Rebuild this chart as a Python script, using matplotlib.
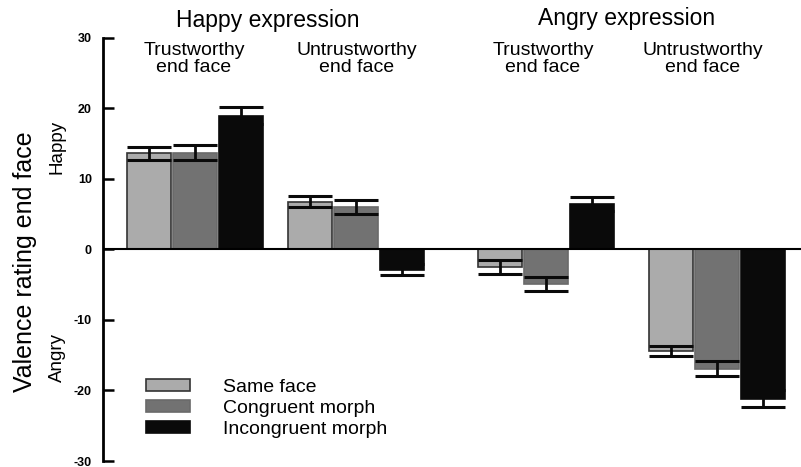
import matplotlib.pyplot as plt
import numpy as np
from matplotlib.patches import Patch

plt.rcParams["font.family"] = ["Liberation Sans", "DejaVu Sans"]

### data
conds = ["Same face", "Congruent morph", "Incongruent morph"]
groups = ["Happy/Trustworthy", "Happy/Untrustworthy", "Angry/Trustworthy", "Angry/Untrustworthy"]
same_m = [13.6, 6.75, -2.5, -14.4]
same_se = [0.9, 0.75, 1.0, 0.75]
cong_m = [13.7, 6.0, -4.9, -16.9]
cong_se = [1.0, 0.95, 0.95, 1.0]
inc_m = [18.9, -2.9, 6.4, -21.2]
inc_se = [1.2, 0.8, 1.0, 1.2]
yticks = [-30, -20, -10, 0, 10, 20, 30]

cols = ["#ababab", "#727272", "#0a0a0a"]
edges = ["#333333", "#6a6a6a", "#0a0a0a"]

W, H = 801, 467
fig = plt.figure(figsize=(W/100, H/100), dpi=100)
ax = fig.add_axes([103/W, 6/H, 698/W, 423.5/H])

# x positions in pixel-like units from the axis
gx = np.array([92, 253, 443, 614])
pitch = 46
bw = 44
cap = bw/2*72/100

means = [same_m, cong_m, inc_m]
ses = [same_se, cong_se, inc_se]
for k in range(3):
    x = gx + (k-1)*pitch
    ax.bar(x, means[k], width=bw, color=cols[k], edgecolor=edges[k], linewidth=1.2, zorder=2)
    ax.errorbar(x, means[k], yerr=ses[k], fmt="none", ecolor="#0a0a0a",
                elinewidth=2, capsize=cap, capthick=2.2, zorder=3)

ax.axhline(0, color="black", lw=1.5, zorder=4)
ax.set_xlim(0, 698)
ax.set_ylim(-30, 30)
ax.set_yticks(yticks)
ax.set_yticklabels([str(t) for t in yticks], fontsize=9, fontweight="bold")
ax.tick_params(axis="y", direction="in", length=8, width=1.8, pad=8)
ax.set_xticks([])
for s in ["top", "right", "bottom"]:
    ax.spines[s].set_visible(False)
ax.spines["left"].set_linewidth(2)
ax.patch.set_alpha(0)

# headers
fig.text(268/W, 1-20/H, "Happy expression", fontsize=16.5, ha="center", va="center")
fig.text(627/W, 1-18/H, "Angry expression", fontsize=16.5, ha="center", va="center")
sub = [("Trustworthy\nend face", 194), ("Untrustworthy\nend face", 357),
       ("Trustworthy\nend face", 543), ("Untrustworthy\nend face", 703)]
for t, xp in sub:
    fig.text(xp/W, 1-59/H, t, fontsize=14, ha="center", va="center", linespacing=0.95)

fig.text(25/W, 1-262/H, "Valence rating end face", fontsize=18, rotation=90, ha="center", va="center")
fig.text(57/W, 1-147/H, "Happy", fontsize=13.5, rotation=90, ha="center", va="center")
fig.text(57/W, 1-357/H, "Angry", fontsize=13.5, rotation=90, ha="center", va="center")

handles = [Patch(facecolor=cols[i], edgecolor=edges[i], linewidth=1.2) for i in range(3)]
leg = fig.legend(handles, conds, loc="upper left", bbox_to_anchor=(136/W, 1-369/H),
                 frameon=False, fontsize=14, handlelength=2.3, handleheight=0.6,
                 handletextpad=1.65, labelspacing=0.2, borderpad=0)

fig.savefig("out.png", dpi=100)
